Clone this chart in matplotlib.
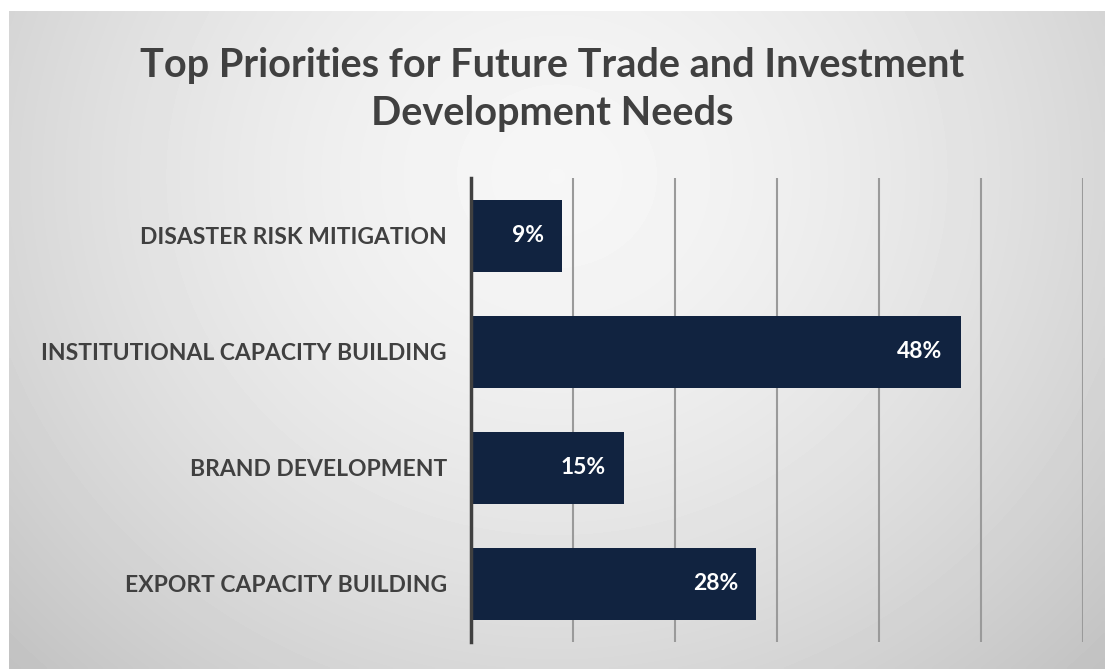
import numpy as np
import matplotlib.pyplot as plt

categories = ["DISASTER RISK MITIGATION", "INSTITUTIONAL CAPACITY BUILDING",
              "BRAND DEVELOPMENT", "EXPORT CAPACITY BUILDING"]
values = [9, 48, 15, 28]
value_labels = ["9%", "48%", "15%", "28%"]

W, H = 1105, 669
fig = plt.figure(figsize=(W / 100, H / 100), dpi=100)
fig.patch.set_facecolor("white")

# grey radial gradient panel behind everything
bg = fig.add_axes([9 / W, 0, 1 - 9 / W, 1 - 11 / H])
yy, xx = np.mgrid[0:1:200j, 0:1:300j]
r = np.sqrt(((xx - 0.5) / 0.62) ** 2 + ((yy - 0.25) / 0.95) ** 2)
shade = 0.965 - 0.17 * np.clip(r, 0, 1.2) ** 1.6
bg.imshow(shade, cmap="gray", vmin=0, vmax=1, aspect="auto",
          extent=[0, 1, 1, 0], interpolation="bilinear")
bg.axis("off")

ax = fig.add_axes([470.5 / W, 1 - 642 / H, 612.6 / W, 464 / H])
ax.patch.set_alpha(0)

y = np.arange(len(categories))
bars = ax.barh(y, values, height=0.62, color="#112340", zorder=3)
ax.set_xlim(0, 60)
ax.set_ylim(len(categories) - 0.5, -0.5)

ax.set_xticks(np.arange(0, 61, 10))
ax.xaxis.grid(True, color="#9a9a9a", linewidth=1.5, zorder=0)
ax.tick_params(axis="x", length=0, labelbottom=False)
ax.tick_params(axis="y", length=0, pad=17)
ax.set_yticks(y)
ax.set_yticklabels(categories, fontsize=16.5, fontweight="bold",
                   color="#404040", family="Lato")

for s in ["top", "right", "bottom"]:
    ax.spines[s].set_visible(False)
ax.spines["left"].set_color("#404040")
ax.spines["left"].set_linewidth(2.5)
ax.spines["left"].set_zorder(4)

for rect, lab in zip(bars, value_labels):
    ax.annotate(lab, (rect.get_width(), rect.get_y() + rect.get_height() / 2),
                xytext=(-18, 0), textcoords="offset pixels",
                ha="right", va="center", color="white", fontsize=16.5,
                fontweight="bold", family="Lato", zorder=5)

fig.text(0.5, 1 - 66 / H, "Top Priorities for Future Trade and Investment",
         ha="center", va="center", fontsize=28.5, fontweight="bold",
         color="#404040", family="Lato")
fig.text(0.5, 1 - 114 / H, "Development Needs",
         ha="center", va="center", fontsize=28.5, fontweight="bold",
         color="#404040", family="Lato")

fig.savefig("out.png", dpi=100)
